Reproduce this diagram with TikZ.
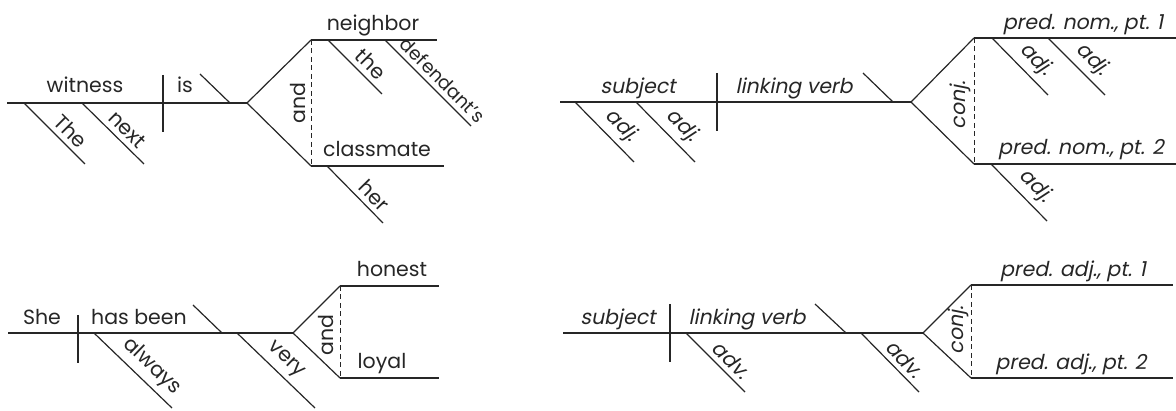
\documentclass[tikz,border=0pt]{standalone}
\usepackage{fontspec}
\setmainfont{Poppins}
\newfontfamily\obl[FakeSlant=0.2]{Poppins}
\begin{document}
\begin{tikzpicture}[x=1pt,y=-1pt,
  ln/.style={line width=1.2pt, draw=black!85},
  dsh/.style={ln, line width=1pt, dash pattern=on 5pt off 3.5pt},
  fs/.style={font=\fontsize{20.5}{20.5}\selectfont},
  ifs/.style={font=\fontsize{20.5}{20.5}\selectfont\obl},
  lbl/.style={fs, text=black!85, inner sep=0pt},
  hw/.style={lbl, anchor=base},
  ihw/.style={hw, ifs},
  vw/.style={lbl, rotate=90, anchor=base},
  ivw/.style={vw, ifs},
  slw/.style={lbl, sloped, above=5pt},
  islw/.style={slw, ifs}]
\useasboundingbox (0,0) rectangle (1176,411);

% ---------- diagram 1 (top left) ----------
\coordinate (a1) at (7,103);
\coordinate (a1x) at (247,103);
\coordinate (a1u) at (311,40);
\coordinate (a1l) at (311,166);
\draw[ln] (a1) -- (a1x);
\draw[ln] (163,75) -- (163,132);
\draw[ln] (200,74) -- (230,103);
\draw[ln] (24,103) -- (85,164) node[slw, pos=.62] (tThe) {The};
\draw[ln] (82,103) -- (144,164) node[slw, pos=.59] (tnext) {next};
\draw[ln] (a1u) -- (a1x) -- (a1l);
\draw[dsh] (a1u) -- (a1l);
\draw[ln] (a1u) -- (437,40);
\draw[ln] (a1l) -- (444,166);
\draw[ln] (328,40) -- (382,94) node[slw, pos=.62] (tthe) {the};
\draw[ln] (385,40) -- (471,126) node[slw, pos=.57, font=\fontsize{18.5}{18.5}\selectfont] (tdef) {defendant’s};
\draw[ln] (327,166) -- (383,223) node[slw, pos=.68] (ther) {her};
\node[hw] (twit) at (85,93) {witness};
\node[hw] (tis) at (185,93) {is};
\node[hw] (tnei) at (373,31) {neighbor};
\node[hw] (tcla) at (377,157) {classmate};
\node[vw] (tand1) at (305,103) {and};

% ---------- diagram 2 (top right) ----------
\coordinate (b1) at (560,102);
\coordinate (b1x) at (911,102);
\coordinate (b1u) at (974,38);
\coordinate (b1l) at (974,164);
\draw[ln] (b1) -- (b1x);
\draw[ln] (717,73) -- (717,131);
\draw[ln] (863,73) -- (893,102);
\draw[ln] (575,102) -- (634,162) node[islw, pos=.59] (tadj1) {adj.};
\draw[ln] (636,102) -- (695,162) node[islw, pos=.59] (tadj2) {adj.};
\draw[ln] (b1u) -- (b1x) -- (b1l);
\draw[dsh] (b1u) -- (b1l);
\draw[ln] (b1u) -- (1176,38);
\draw[ln] (b1l) -- (1176,164);
\draw[ln] (992,38) -- (1048,95) node[islw, pos=.58] (tadj3) {adj.};
\draw[ln] (1048,38) -- (1105,95) node[islw, pos=.58] (tadj4) {adj.};
\draw[ln] (991,164) -- (1047,221) node[islw, pos=.59] (tadj5) {adj.};
\node[ihw] (tsub1) at (638,94) {subject};
\node[ihw] (tlv1) at (794,94) {linking verb};
\node[ihw] (tpn1) at (1083,30) {pred. nom., pt. 1};
\node[ihw] (tpn2) at (1081,155) {pred. nom., pt. 2};
\node[ivw] (tconj1) at (965,105) {conj.};

% ---------- diagram 3 (bottom left) ----------
\coordinate (c1) at (8,333);
\coordinate (c1x) at (293,333);
\coordinate (c1u) at (340,286);
\coordinate (c1l) at (340,378);
\draw[ln] (c1) -- (c1x);
\draw[ln] (78,315) -- (78,363);
\draw[ln] (193,305) -- (222,333);
\draw[ln] (94,333) -- (172,408) node[slw, pos=.6] (talw) {always};
\draw[ln] (237,333) -- (315,408) node[slw, pos=.5] (tvery) {very};
\draw[ln] (c1u) -- (c1x) -- (c1l);
\draw[dsh] (c1u) -- (c1l);
\draw[ln] (c1u) -- (439,286);
\draw[ln] (c1l) -- (439,378);
\node[hw] (tshe) at (42,325) {She};
\node[hw] (thas) at (139,325) {has been};
\node[hw] (thon) at (392,277) {honest};
\node[hw] (tloy) at (382,369) {loyal};
\node[vw] (tand2) at (333,335) {and};

% ---------- diagram 4 (bottom right) ----------
\coordinate (d1) at (563,333);
\coordinate (d1x) at (923,333);
\coordinate (d1u) at (971,285);
\coordinate (d1l) at (971,378);
\draw[ln] (d1) -- (d1x);
\draw[ln] (670,304) -- (670,362);
\draw[ln] (815,304) -- (846,333);
\draw[ln] (686,333) -- (745,392) node[islw, pos=.61] (tadv1) {adv.};
\draw[ln] (861,333) -- (919,392) node[islw, pos=.59] (tadv2) {adv.};
\draw[ln] (d1u) -- (d1x) -- (d1l);
\draw[dsh] (d1u) -- (d1l);
\draw[ln] (d1u) -- (1173,285);
\draw[ln] (d1l) -- (1173,378);
\node[ihw] (tsub2) at (618,325) {subject};
\node[ihw] (tlv2) at (747,325) {linking verb};
\node[ihw] (tpa1) at (1073,277) {pred. adj., pt. 1};
\node[ihw] (tpa2) at (1071,370) {pred. adj., pt. 2};
\node[ivw] (tconj2) at (963,330) {conj.};
\end{tikzpicture}
\end{document}
